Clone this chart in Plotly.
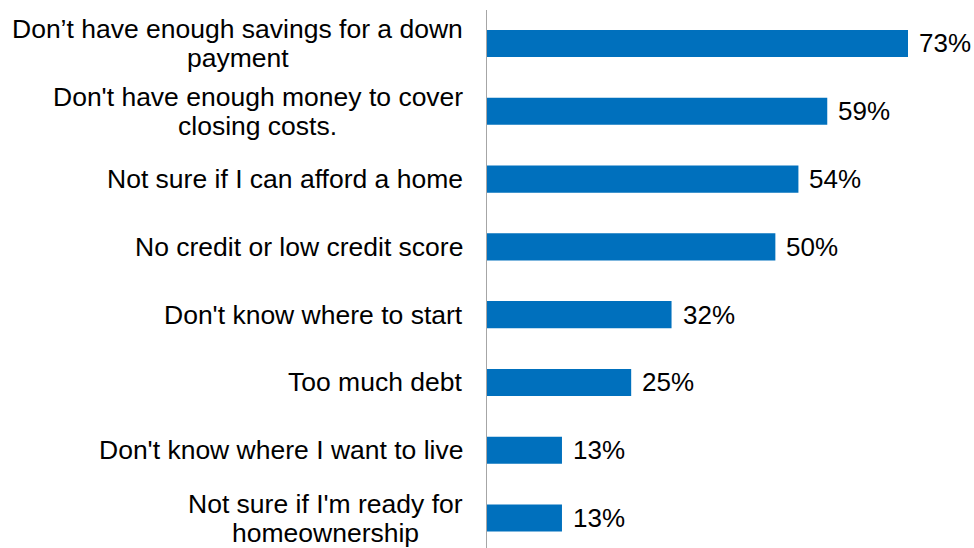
import plotly.graph_objects as go

# Survey responses: barriers to buying a home (top to bottom)
categories = [
    ["Don’t have enough savings for a down", "payment"],
    ["Don't have enough money to cover", "closing costs."],
    ["Not sure if I can afford a home"],
    ["No credit or low credit score"],
    ["Don't know where to start"],
    ["Too much debt"],
    ["Don't know where I want to live"],
    ["Not sure if I'm ready for", "homeownership"],
]
shares = [73, 59, 54, 50, 32, 25, 13, 13]
value_labels = ["73%", "59%", "54%", "50%", "32%", "25%", "13%", "13%"]

BAR_COLOR = "#0070BD"
FONT = "Liberation Sans, Arial, sans-serif"
LABEL_SIZE = 26.5
VALUE_SIZE = 26
LINE_PITCH = 29      # px between the lines of a wrapped label
LABEL_GAP = 24       # px between label block and the axis line

# Arial / Liberation Sans advance widths (1/1000 em) for centring wrapped lines
_ADV = {
    " ": 278, "D": 722, "N": 722, "I": 278, "’": 222, "'": 191, ".": 278,
    "a": 556, "b": 556, "c": 500, "d": 556, "e": 556, "f": 278, "g": 556,
    "h": 556, "i": 222, "k": 500, "l": 222, "m": 833, "n": 556, "o": 556,
    "p": 556, "r": 333, "s": 500, "t": 278, "u": 556, "v": 500, "w": 722,
    "y": 500,
}


def text_width(s, size):
    return sum(_ADV.get(ch, 556) for ch in s) / 1000 * size


n = len(categories)
ypos = list(range(n - 1, -1, -1))  # first category on top

fig = go.Figure(
    go.Bar(
        x=shares,
        y=ypos,
        orientation="h",
        marker=dict(color=BAR_COLOR, line=dict(width=0)),
        width=0.4,
        hoverinfo="skip",
    )
)

annotations = []
# category labels: block right-aligned next to the axis, lines centred
for y, lines in zip(ypos, categories):
    block_w = max(text_width(s, LABEL_SIZE) for s in lines)
    k = len(lines)
    for i, line in enumerate(lines):
        annotations.append(dict(
            x=0, xref="paper", y=y, yref="y",
            text=line, showarrow=False,
            xanchor="center", yanchor="middle",
            xshift=-LABEL_GAP - block_w / 2,
            yshift=((k - 1) / 2 - i) * LINE_PITCH,
            font=dict(family=FONT, size=LABEL_SIZE, color="#000000"),
        ))
# value labels just past the bar ends
for y, v, lab in zip(ypos, shares, value_labels):
    annotations.append(dict(
        x=v, xref="x", y=y, yref="y",
        text=lab, showarrow=False,
        xanchor="left", yanchor="middle",
        xshift=9,
        font=dict(family=FONT, size=VALUE_SIZE, color="#000000"),
    ))

fig.update_layout(
    width=974, height=548,
    margin=dict(l=487, r=0, t=10, b=0),
    paper_bgcolor="white", plot_bgcolor="white",
    showlegend=False,
    annotations=annotations,
    xaxis=dict(range=[0, 73 * 487 / 421], visible=False, fixedrange=True),
    yaxis=dict(
        range=[-0.442, 7.494],
        showticklabels=False, ticks="",
        showgrid=False, zeroline=False,
        showline=True, linecolor="#A6A6A6", linewidth=1,
        fixedrange=True,
    ),
)

fig.write_html("out.html")
